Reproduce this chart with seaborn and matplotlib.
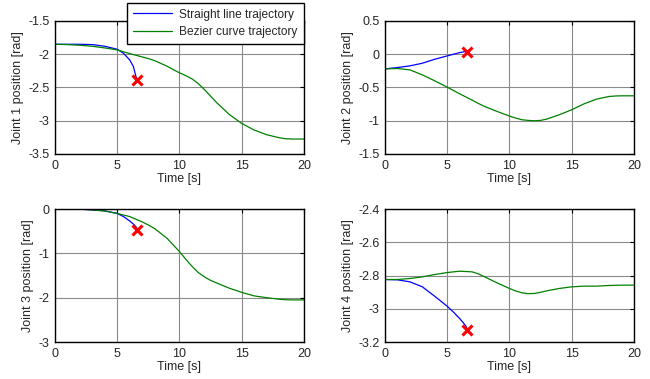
import numpy as np
import pandas as pd
import seaborn as sns
import matplotlib.pyplot as plt
from matplotlib.ticker import FormatStrFormatter

# time samples
t_bez = [0, 1, 2, 3, 4, 5, 6, 7, 7.5, 8, 9, 10, 10.5, 11, 11.5, 12, 12.5, 13, 14, 15, 16, 17, 18, 18.5, 19, 20]
t_lin = [0, 1, 2, 3, 4, 5, 5.5, 6, 6.3, 6.5, 6.6]

# joint 1
j1_bez = [-1.85, -1.855, -1.865, -1.88, -1.905, -1.935, -1.99, -2.04, -2.065, -2.095,
          -2.18, -2.28, -2.32, -2.37, -2.44, -2.53, -2.63, -2.73, -2.905, -3.04, -3.14,
          -3.21, -3.255, -3.27, -3.275, -3.275]
j1_lin = [-1.85, -1.85, -1.85, -1.855, -1.88, -1.925, -1.985, -2.085, -2.185, -2.335, -2.365]
j1_end = (6.6, -2.38)

# joint 2
j2_bez = [-0.22, -0.215, -0.235, -0.31, -0.4, -0.495, -0.595, -0.69, -0.74, -0.785,
          -0.86, -0.93, -0.96, -0.985, -0.995, -1.0, -0.995, -0.975, -0.91, -0.835,
          -0.745, -0.675, -0.635, -0.628, -0.625, -0.625]
j2_lin = [-0.22, -0.2, -0.175, -0.135, -0.075, -0.025, 0.0, 0.025, 0.035, 0.045, 0.05]
j2_end = (6.6, 0.03)

# joint 3
j3_bez = [0, 0, 0, -0.02, -0.045, -0.1, -0.17, -0.29, -0.36, -0.44, -0.66, -0.96,
          -1.13, -1.29, -1.43, -1.53, -1.61, -1.67, -1.785, -1.88, -1.96, -2.0, -2.035,
          -2.045, -2.05, -2.05]
j3_lin = [0, 0, -0.005, -0.02, -0.04, -0.1, -0.17, -0.27, -0.34, -0.4, -0.44]
j3_end = (6.6, -0.48)

# joint 4
j4_bez = [-2.824, -2.824, -2.818, -2.808, -2.794, -2.782, -2.774, -2.778, -2.79, -2.808,
          -2.844, -2.878, -2.893, -2.904, -2.909, -2.908, -2.901, -2.892, -2.878, -2.868,
          -2.864, -2.864, -2.86, -2.859, -2.858, -2.858]
j4_lin = [-2.824, -2.826, -2.838, -2.868, -2.925, -2.985, -3.02, -3.059, -3.085, -3.105, -3.12]
j4_end = (6.6, -3.13)

joints = [
    ("Joint 1 position [rad]", j1_bez, j1_lin, j1_end, (-3.5, -1.5), np.arange(-3.5, -1.49, 0.5)),
    ("Joint 2 position [rad]", j2_bez, j2_lin, j2_end, (-1.5, 0.5), np.arange(-1.5, 0.51, 0.5)),
    ("Joint 3 position [rad]", j3_bez, j3_lin, j3_end, (-3, 0), np.arange(-3, 0.01, 1)),
    ("Joint 4 position [rad]", j4_bez, j4_lin, j4_end, (-3.2, -2.4), np.arange(-3.2, -2.39, 0.2)),
]

sns.set_style("white")
plt.rcParams['font.family'] = ['Liberation Sans', 'DejaVu Sans']
plt.rcParams['font.size'] = 9
plt.rcParams['axes.unicode_minus'] = False

fig = plt.figure(figsize=(6.5, 3.79), dpi=100)
boxes = [
    [0.0846, 0.5937, 0.383, 0.3509],
    [0.5923, 0.5937, 0.383, 0.3509],
    [0.0846, 0.0976, 0.383, 0.3509],
    [0.5923, 0.0976, 0.383, 0.3509],
]

handles, labels = None, None
for box, (ylab, bez, lin, end, ylim, yt) in zip(boxes, joints):
    ax = fig.add_axes(box)
    sns.lineplot(x=t_lin, y=lin, color=(0, 0, 1), lw=0.9, ax=ax,
                 label="Straight line trajectory", legend=False)
    sns.lineplot(x=t_bez, y=bez, color=(0, 0.5, 0), lw=0.9, ax=ax,
                 label="Bezier curve trajectory", legend=False)
    ax.plot(end[0], end[1], marker='x', color='red', ms=7, mew=2.2, ls='none')
    ax.set_xlim(0, 20)
    ax.set_ylim(*ylim)
    ax.set_xticks([0, 5, 10, 15, 20])
    ax.set_yticks(yt)
    ax.yaxis.set_major_formatter(FormatStrFormatter('%g'))
    ax.set_xlabel("Time [s]", fontsize=9, labelpad=1)
    ax.set_ylabel(ylab, fontsize=9, labelpad=3)
    ax.grid(True, color='#8a8a8a', lw=0.8)
    ax.tick_params(direction='in', top=True, right=True, length=3, width=0.8,
                   labelsize=9, pad=4, color='black')
    for s in ax.spines.values():
        s.set_color('black')
        s.set_linewidth(1.0)
    if handles is None:
        handles, labels = ax.get_legend_handles_labels()

leg = fig.legend(handles, labels, loc='upper right', bbox_to_anchor=(0.467, 0.993),
                 fancybox=False, framealpha=1, edgecolor='black', fontsize=8.6,
                 handlelength=3.3, borderpad=0.5, labelspacing=0.45, handletextpad=0.6,
                 borderaxespad=0)
leg.get_frame().set_linewidth(1.0)

fig.savefig("out.png", dpi=100)
